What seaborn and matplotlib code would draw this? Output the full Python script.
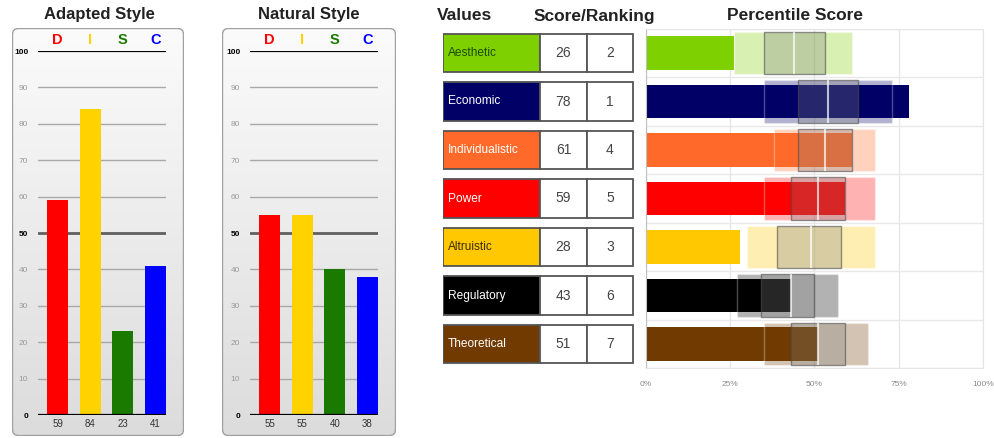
import numpy as np
import seaborn as sns
import matplotlib.pyplot as plt
from matplotlib.patches import FancyBboxPatch, Rectangle
from matplotlib.colors import LinearSegmentedColormap

# DISC panels
disc_letters = ['D', 'I', 'S', 'C']
disc_colors = ['#ff0000', '#ffd200', '#1a7a00', '#0000ff']
adapted = [59, 84, 23, 41]
natural = [55, 55, 40, 38]

# values / percentile panel
value_names = ['Aesthetic', 'Economic', 'Individualistic', 'Power',
               'Altruistic', 'Regulatory', 'Theoretical']
value_colors = ['#7ed000', '#000066', '#ff6a2a', '#ff0000',
                '#ffc800', '#000000', '#703a00']
label_colors = ['#1f4a00', 'white', 'white', 'white', '#3a2e00', 'white', 'white']
scores = [26, 78, 61, 59, 28, 43, 51]
rankings = [2, 1, 4, 5, 3, 6, 7]
band_low = [26, 35, 38, 35, 30, 27, 35]
band_high = [61, 73, 68, 68, 68, 57, 66]
inner_low = [35, 45, 45, 43, 39, 34, 43]
inner_high = [53, 63, 61, 59, 58, 50, 59]
medians = [44, 54, 53, 51, 49, 43, 51]
pct_ticks = [0, 25, 50, 75, 100]

sns.set_style('white')
plt.rcParams['font.family'] = ['Liberation Sans', 'DejaVu Sans']

W, H = 995, 438
fig = plt.figure(figsize=(W / 100, H / 100), dpi=100)


def px_axes(x0, y0, x1, y1):
    return fig.add_axes([x0 / W, 1 - y1 / H, (x1 - x0) / W, (y1 - y0) / H])


def panel_bg(x0, y0, x1, y1):
    bg = px_axes(x0, y0, x1, y1)
    bg.set_axis_off()
    w, h = x1 - x0, y1 - y0
    grad = np.linspace(0, 1, 256).reshape(-1, 1)
    cmap = LinearSegmentedColormap.from_list('g', ['#fbfbfb', '#dcdcdc'])
    im = bg.imshow(grad, cmap=cmap, aspect='auto', extent=(0, w, 0, h))
    box = FancyBboxPatch((0.5, 0.5), w - 1, h - 1,
                         boxstyle='round,pad=0,rounding_size=6',
                         facecolor='none', edgecolor='#a0a0a0', lw=1)
    bg.add_patch(box)
    im.set_clip_path(box)
    bg.set_xlim(0, w)
    bg.set_ylim(0, h)


def disc_chart(ax, vals, title, title_x):
    sns.barplot(x=disc_letters, y=vals, hue=disc_letters, palette=disc_colors,
                saturation=1, width=0.64, legend=False, ax=ax, zorder=2,
                linewidth=0, edgecolor='none')
    ax.set_facecolor('none')
    for s in ax.spines.values():
        s.set_visible(False)
    for v in range(10, 100, 10):
        if v == 50:
            ax.axhline(v, color='#606060', lw=2, zorder=1)
        else:
            ax.axhline(v, color='#a8a8a8', lw=1, zorder=1)
    ax.axhline(100, color='black', lw=1.6, zorder=3)
    ax.axhline(0, color='black', lw=1.6, zorder=3)
    ax.set_xlim(-0.6, 3.32)
    ax.set_ylim(0, 100)
    ax.set_yticks(range(0, 101, 10))
    ax.set_yticklabels([str(v) for v in range(0, 101, 10)])
    ax.tick_params(axis='y', length=0, pad=7, labelsize=6, labelcolor='#9a9a9a')
    for lab, v in zip(ax.get_yticklabels(), range(0, 101, 10)):
        if v in (0, 50, 100):
            lab.set_color('black')
            lab.set_fontweight('bold')
    ax.set_xticks(range(4))
    ax.set_xticklabels([str(v) for v in vals])
    ax.tick_params(axis='x', length=0, pad=3, labelsize=7, labelcolor='#333333')
    ax.set_xlabel('')
    ax.set_ylabel('')
    for i, (l, c) in enumerate(zip(disc_letters, disc_colors)):
        ax.text(i, 103, l, color=c, ha='center', va='center',
                fontsize=10.5, fontweight='bold', clip_on=False)
    fig.text(title_x / W, 1 - 15 / H, title, ha='center', va='center',
             fontsize=12, fontweight='bold', color='#222222')


panel_bg(12, 28, 184, 436)
disc_chart(px_axes(38, 51, 166, 415), adapted, 'Adapted Style', 99)

panel_bg(222, 28, 396, 436)
disc_chart(px_axes(250, 51, 378, 415), natural, 'Natural Style', 309)

# table of values
row_top, row_bot = 28.75, 368.25
tab = px_axes(443, row_top, 634, row_bot)
tab.set_axis_off()
tab.set_xlim(0, 191)
tab.set_ylim(6.5, -0.5)
col_edges = [0, 97, 144, 190]
cell_h = 0.8
for i, name in enumerate(value_names):
    y0 = i - cell_h / 2
    tab.add_patch(Rectangle((col_edges[0], y0), col_edges[1] - col_edges[0], cell_h,
                            facecolor=value_colors[i], edgecolor='#555555', lw=1.3))
    tab.add_patch(Rectangle((col_edges[1], y0), col_edges[2] - col_edges[1], cell_h,
                            facecolor='white', edgecolor='#555555', lw=1.3))
    tab.add_patch(Rectangle((col_edges[2], y0), col_edges[3] - col_edges[2], cell_h,
                            facecolor='white', edgecolor='#555555', lw=1.3))
    tab.text(col_edges[0] + 5, i, name, color=label_colors[i], ha='left',
             va='center', fontsize=8.6)
    tab.text((col_edges[1] + col_edges[2]) / 2, i, str(scores[i]), color='#444444',
             ha='center', va='center', fontsize=10)
    tab.text((col_edges[2] + col_edges[3]) / 2, i, str(rankings[i]), color='#444444',
             ha='center', va='center', fontsize=10)

# percentile chart
ax = px_axes(646, row_top, 983, row_bot)
ax.set_axisbelow(True)
for y in np.arange(-0.5, 7, 1):
    ax.axhline(y, color='#e8e8e8', lw=1, zorder=0)
sns.barplot(x=scores, y=value_names, hue=value_names, palette=value_colors,
            orient='h', saturation=1, width=0.7, legend=False, ax=ax, zorder=2,
            linewidth=0, edgecolor='none')
ypos = np.arange(len(value_names))
ax.barh(ypos, np.subtract(band_high, band_low), left=band_low, height=0.87,
        color=value_colors, alpha=0.3, zorder=3)
ax.barh(ypos, np.subtract(inner_high, inner_low), left=inner_low, height=0.87,
        color=(0.5, 0.5, 0.5, 0.3), edgecolor=(0.3, 0.3, 0.3, 0.6), lw=1, zorder=4)
ax.vlines(medians, ypos - 0.435, ypos + 0.435, color='white', lw=1.5, alpha=0.7, zorder=5)
ax.set_xlim(0, 100)
ax.set_ylim(6.5, -0.5)
ax.set_xticks(pct_ticks)
ax.set_xticklabels([f'{t}%' for t in pct_ticks])
ax.grid(axis='x', color='#e6e6e6', lw=1)
ax.set_yticks([])
ax.set_xlabel('')
ax.set_ylabel('')
ax.tick_params(axis='x', length=0, pad=9, labelsize=6, labelcolor='#8a8a8a')
for s in ax.spines.values():
    s.set_color('#e6e6e6')
ax.spines['left'].set_color('#c0c0c0')

fig.text(437 / W, 1 - 16 / H, 'Values', ha='left', va='center',
         fontsize=12.5, fontweight='bold', color='#222222')
fig.text(534 / W, 1 - 16 / H, 'Score/Ranking', ha='left', va='center',
         fontsize=12.5, fontweight='bold', color='#222222')
fig.text(727 / W, 1 - 16 / H, 'Percentile Score', ha='left', va='center',
         fontsize=12.5, fontweight='bold', color='#222222')

fig.savefig('out.png', dpi=100)
